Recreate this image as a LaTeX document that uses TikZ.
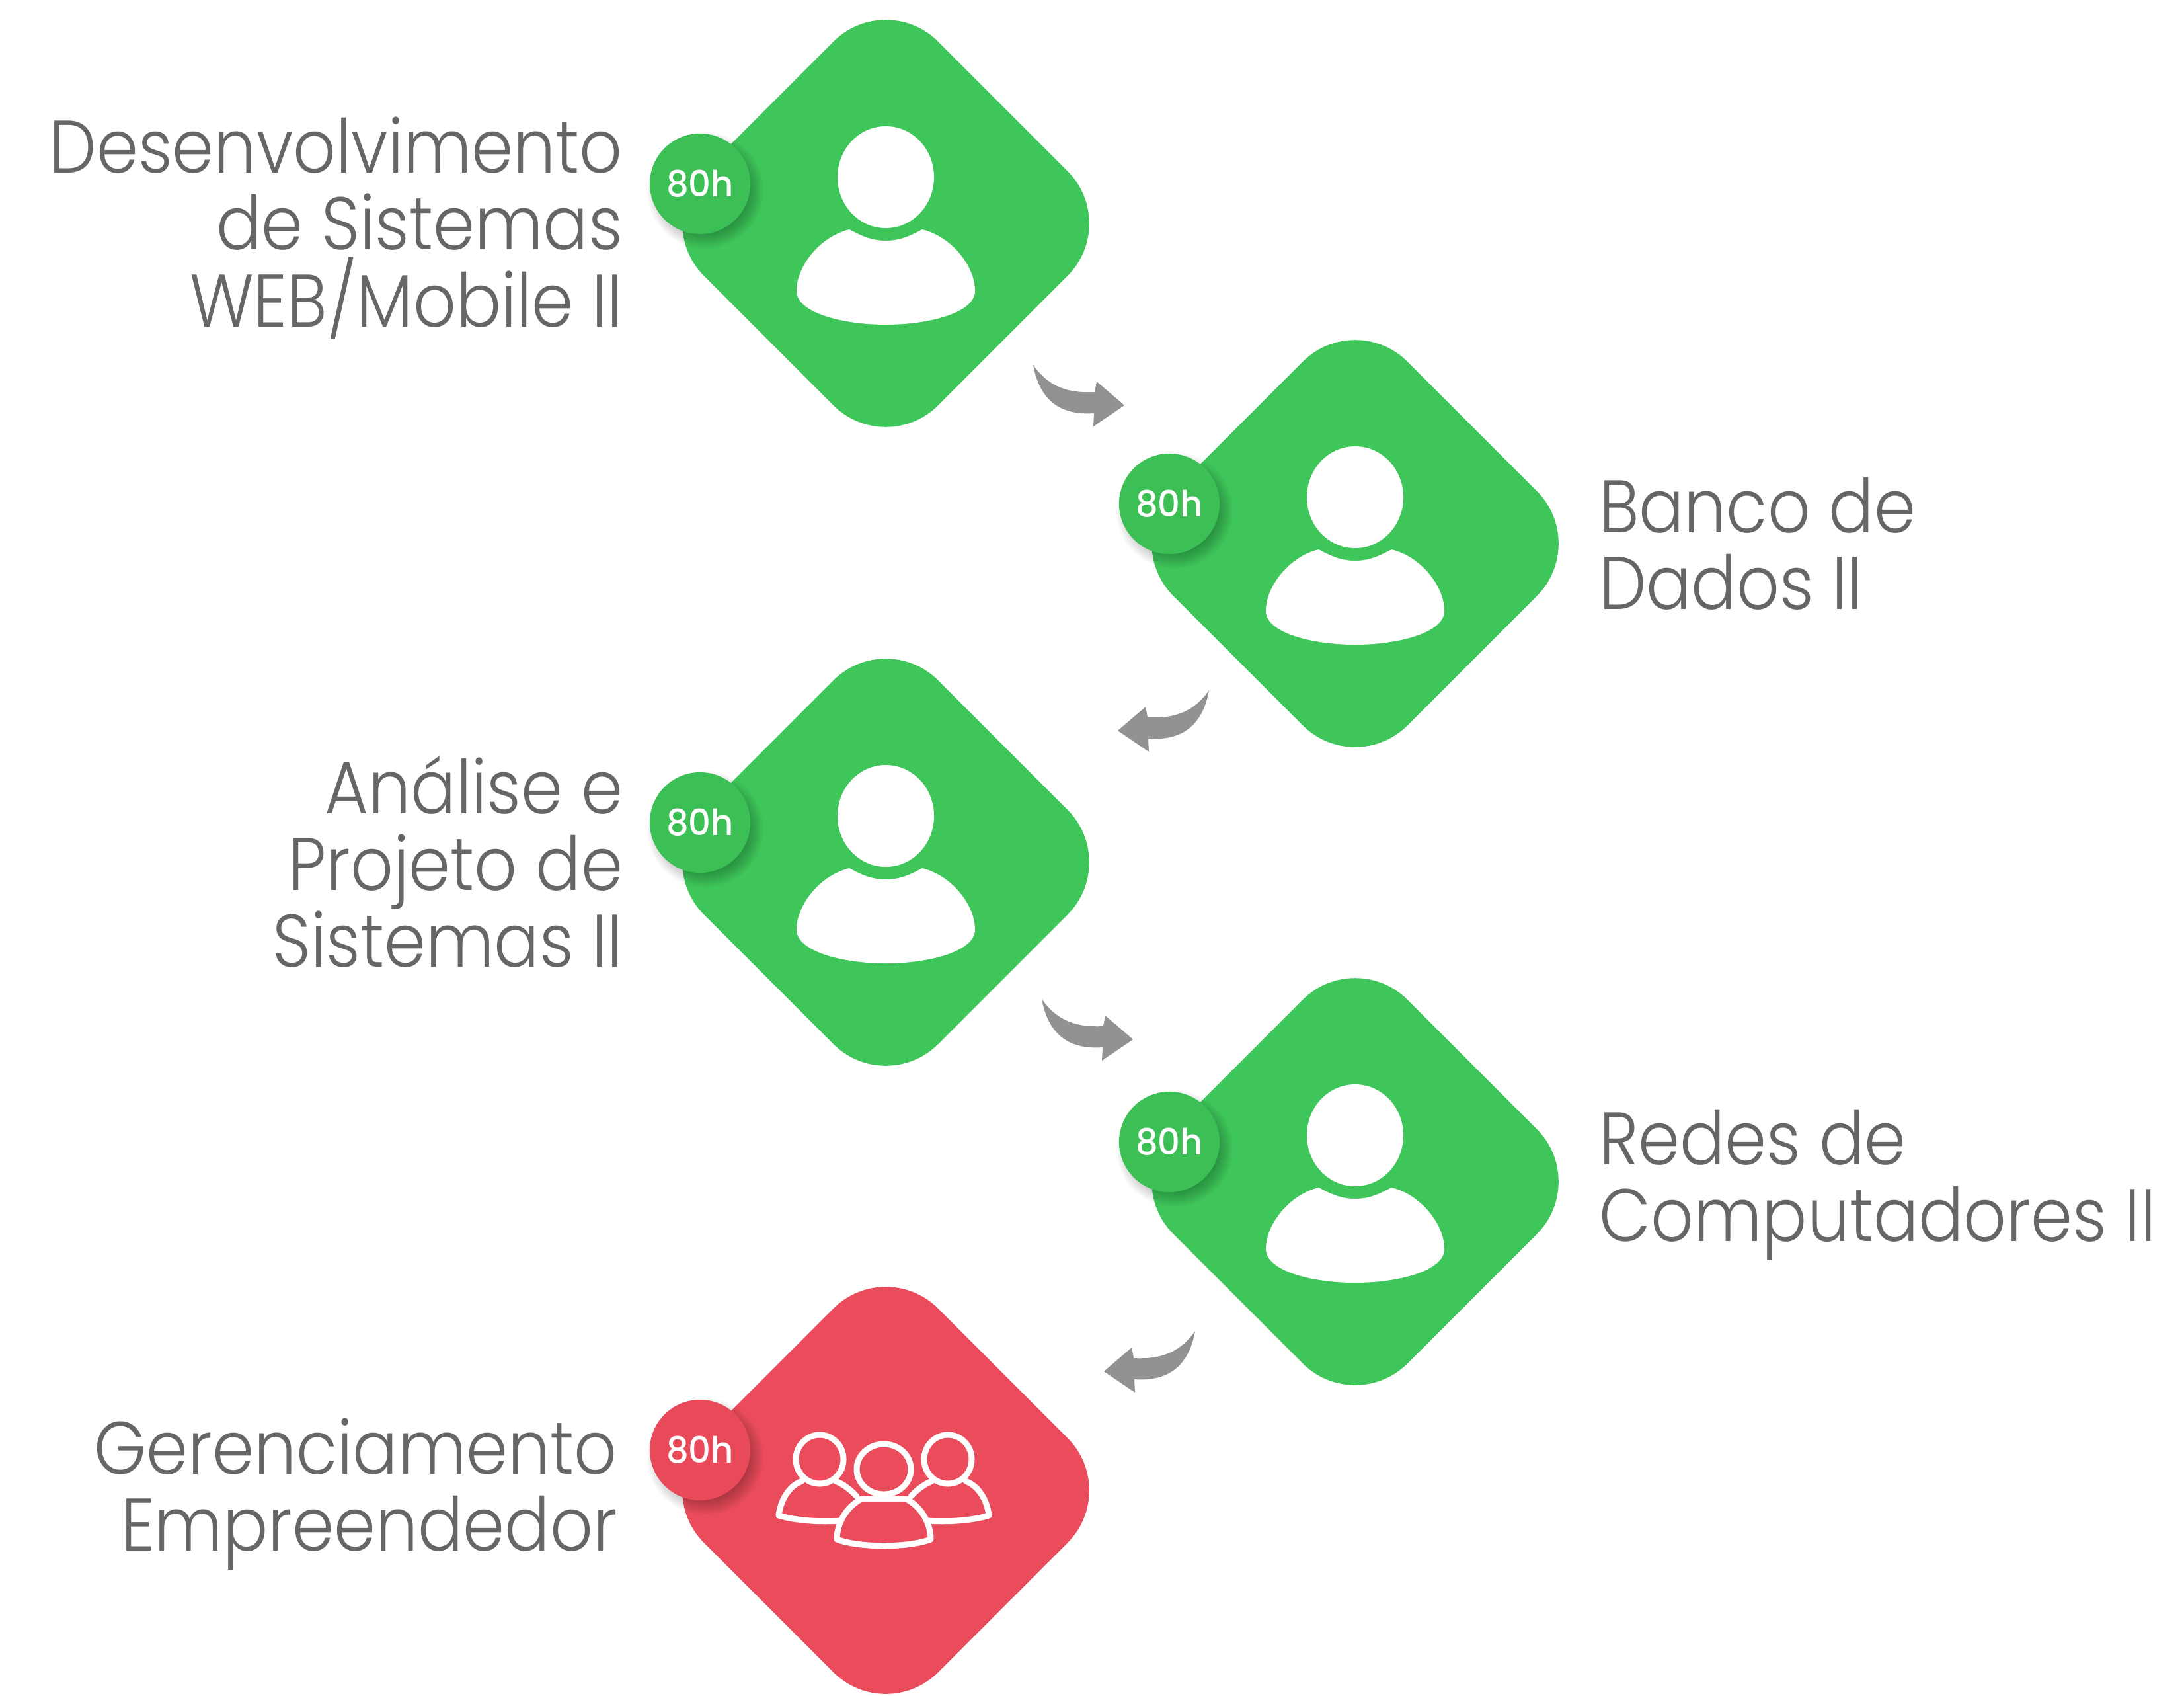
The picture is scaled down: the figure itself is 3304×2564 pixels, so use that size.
\documentclass[tikz,border=0pt]{standalone}
\usepackage{fontspec}
\setmainfont[FakeStretch=0.9]{Poppins Light}
\newfontfamily\badgefont[FakeStretch=0.97]{Poppins Medium}
\usetikzlibrary{shapes.geometric,calc}
\definecolor{grn}{HTML}{3FC65A}
\definecolor{grnb}{HTML}{3CBF54}
\definecolor{rd}{HTML}{EA4C5C}
\definecolor{rdb}{HTML}{E94A5A}
\definecolor{arrowgrey}{HTML}{929292}
\definecolor{txt}{HTML}{666666}
\tikzset{
  x=0.01cm,y=-0.01cm,
  tile/.style={shape=diamond,aspect=1,minimum width=7.08cm,minimum height=7.08cm,inner sep=0pt,outer sep=0pt,rounded corners=1.12cm,fill=#1},
  badge/.style={circle,minimum size=1.52cm,inner sep=0pt,outer sep=0pt,fill=#1,text=white,font=\badgefont\fontsize{15.5}{15.5}\selectfont},
  lab/.style={text=txt,inner sep=0pt,outer sep=0pt,font=\fontsize{32}{33}\selectfont},
  labl/.style={lab,align=right,anchor=east},
  labr/.style={lab,align=left,anchor=west},
  grparrow/.style={fill=arrowgrey,draw=none},
}
% person icon, relative to a tile centre
\newcommand{\personicon}[1]{%
  \fill[white,shift={(#1)}] (0,-70) ellipse [x radius=73,y radius=77];
  \fill[white,shift={(#1)}] (-55,9) .. controls (-35,20) and (-20,26) .. (0,26)
    .. controls (20,26) and (35,20) .. (55,9)
    .. controls (100,20) and (135,65) .. (135,102)
    .. controls (135,135) and (65,153) .. (0,153)
    .. controls (-65,153) and (-135,135) .. (-135,102)
    .. controls (-135,65) and (-100,20) .. (-55,9) -- cycle;
}
\newcommand{\badgeshadow}[1]{%
  \foreach \k in {0,...,11}{
    \fill[black,opacity=0.022] ($(#1)+(8,10)$) circle [radius={88-\k*2.2}];
  }
}
% block arrow: local origin is the axis of mirror, tail at top
\newcommand{\bentarrow}[2]{%
  \fill[grparrow,shift={(#1)},xscale=#2] (-133,-28)
    .. controls (-110,5) and (-80,15) .. (-40,13)
    -- (-37,-3) -- (5,33) -- (-42,65) -- (-41,45)
    .. controls (-85,48) and (-122,32) .. (-133,-28) -- cycle;
}
\begin{document}
\begin{tikzpicture}
\useasboundingbox (0,0) rectangle (3304,2564);
\fill[white] (0,0) rectangle (3304,2564);
% tiles
\node[tile=grn] (d1) at (1340,338) {};
\node[tile=grn] (d2) at (2050,822) {};
\node[tile=grn] (d3) at (1340,1304) {};
\node[tile=grn] (d4) at (2050,1787) {};
\node[tile=rd]  (d5) at (1340,2254) {};
% icons
\personicon{d1}\personicon{d2}\personicon{d3}\personicon{d4}
\begin{scope}[shift={(d5)},line width=0.09cm,draw=white,line join=round,line cap=round]
  \draw (-100,-47) ellipse [x radius=36,y radius=37];
  \draw (94,-47) ellipse [x radius=36,y radius=37];
  \draw (-127,-14) .. controls (-150,-5) and (-160,20) .. (-162,38)
     .. controls (-135,46) and (-100,48) .. (-69,46);
  \draw (-76,-14) .. controls (-65,-10) and (-52,0) .. (-44,9);
  \draw (121,-14) .. controls (144,-5) and (154,20) .. (156,38)
     .. controls (129,46) and (94,48) .. (63,46);
  \draw (70,-14) .. controls (59,-10) and (46,0) .. (38,9);
  \draw[fill=rd] (-37,13) .. controls (-60,25) and (-74,50) .. (-74,74)
     .. controls (-40,87) and (34,87) .. (68,74)
     .. controls (68,50) and (54,25) .. (31,13) -- cycle;
  \draw[fill=rd] (-3,-32) ellipse [x radius=41,y radius=38];
\end{scope}
% arrows
\coordinate (a1) at (1696,580);
\coordinate (a2) at (1696,1072);
\coordinate (a3) at (1709,1539);
\coordinate (a4) at (1675,2041);
\bentarrow{a1}{1}\bentarrow{a2}{-1}\bentarrow{a3}{1}\bentarrow{a4}{-1}
% badges
\coordinate (c1) at ($(d1)+(-281,-60)$);
\coordinate (c2) at ($(d2)+(-281,-60)$);
\coordinate (c3) at ($(d3)+(-281,-60)$);
\coordinate (c4) at ($(d4)+(-281,-60)$);
\coordinate (c5) at ($(d5)+(-281,-61)$);
\begin{scope}
\badgeshadow{c1}\badgeshadow{c2}\badgeshadow{c3}\badgeshadow{c4}\badgeshadow{c5}
\end{scope}
\node[badge=grnb] (b1) at (c1) {80h};
\node[badge=grnb] (b2) at (c2) {80h};
\node[badge=grnb] (b3) at (c3) {80h};
\node[badge=grnb] (b4) at (c4) {80h};
\node[badge=rdb]  (b5) at (c5) {80h};
% labels
\node[labl] (t1) at (942,345) {Desenvolvimento\\de Sistemas\\WEB/Mobile II};
\node[labr] (t2) at (2419,822) {Banco de\\Dados II};
\node[labl] (t3) at (942,1304) {Análise e\\Projeto de\\Sistemas II};
\node[labr] (t4) at (2419,1792) {Redes de\\Computadores II};
\node[labl] (t5) at (934,2260) {Gerenciamento\\Empreendedor};
\end{tikzpicture}
\end{document}
